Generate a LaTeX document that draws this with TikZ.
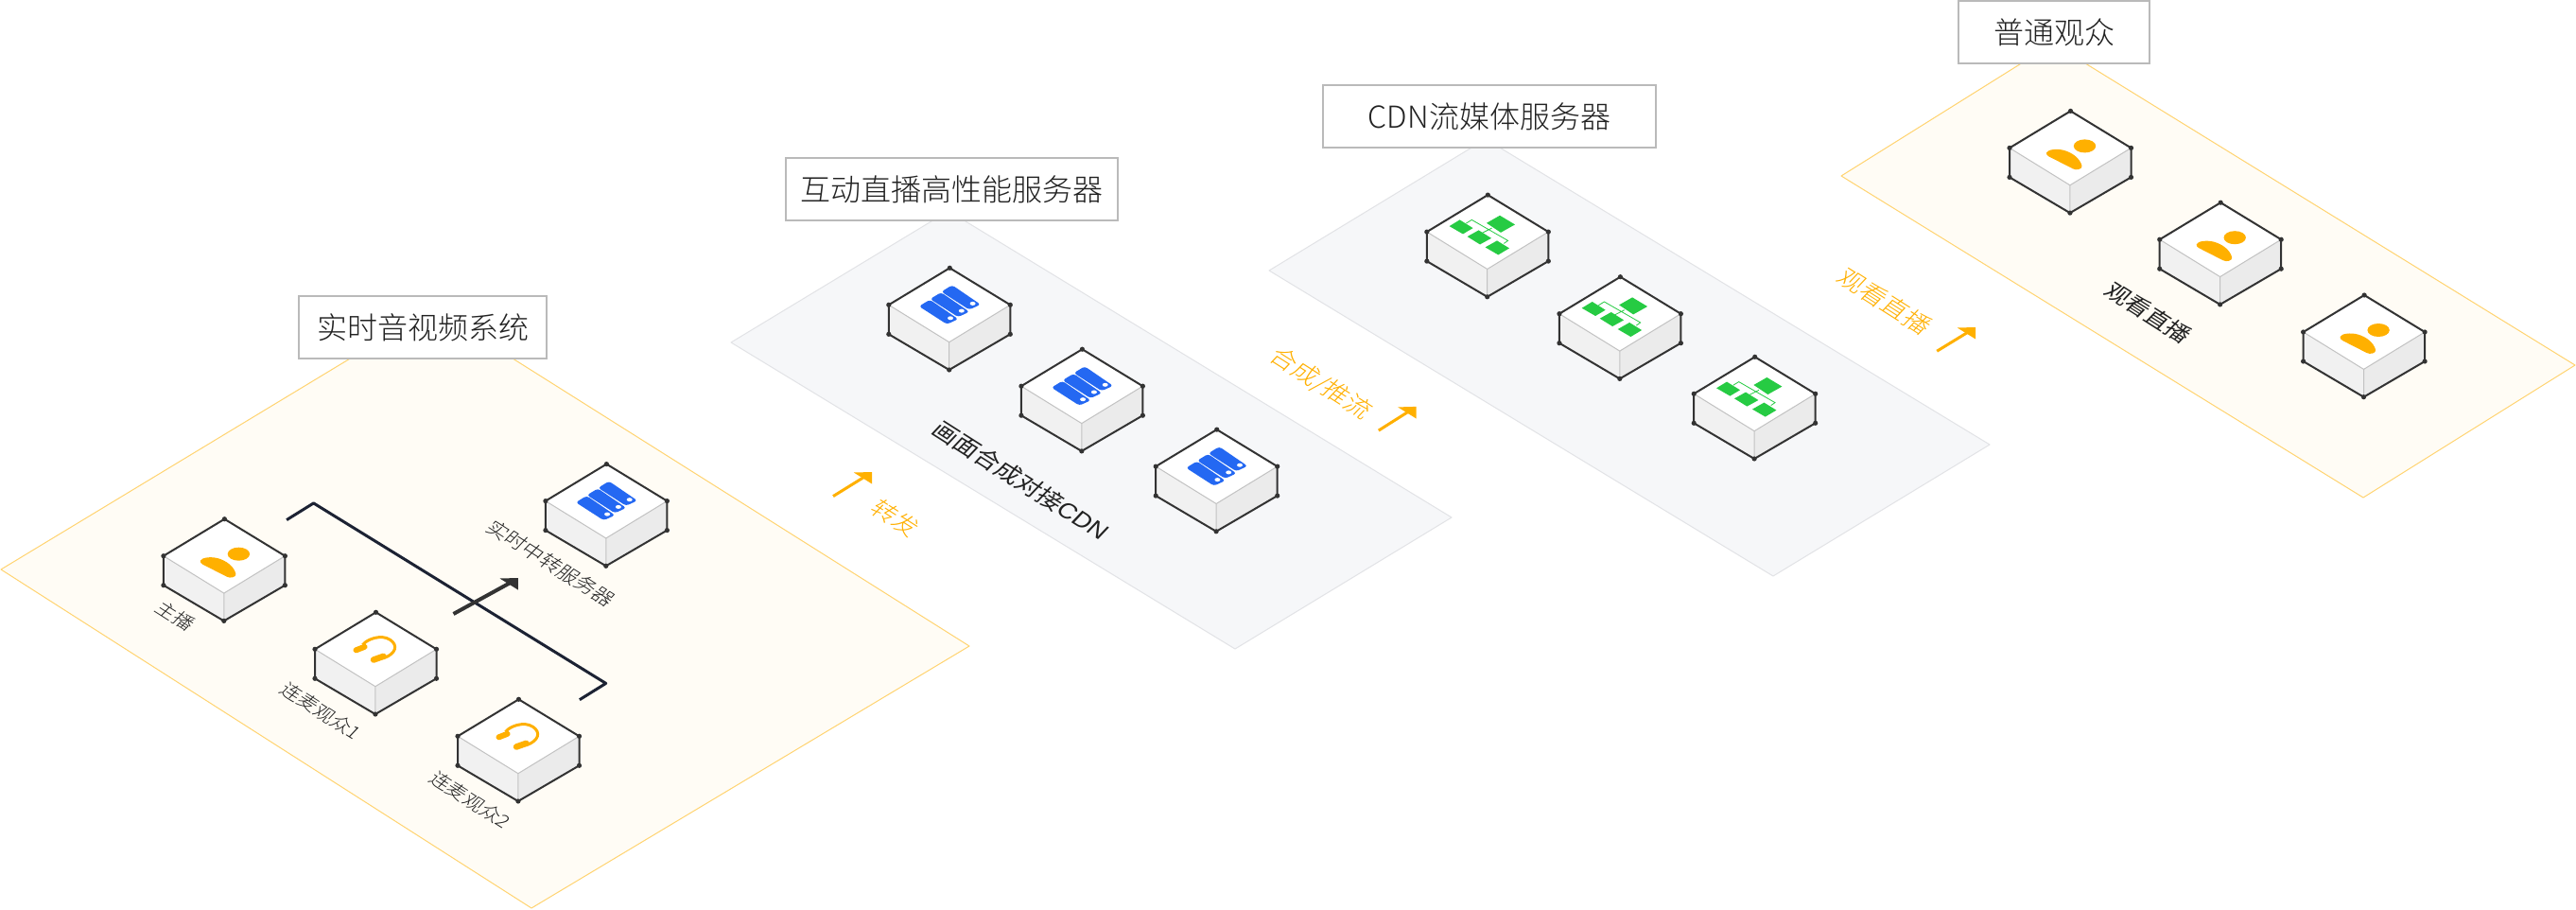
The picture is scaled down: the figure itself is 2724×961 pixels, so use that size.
\documentclass[tikz,border=0pt]{standalone}
\usepackage{fontspec}
\setmainfont{Noto Sans CJK SC}[UprightFont=* Light]
\newfontfamily\regf{Noto Sans CJK SC}
\newfontfamily\latf{Liberation Sans}
\newcommand{\ems}[1]{\fontsize{#1}{#1}\selectfont}
\definecolor{ornge}{HTML}{FFB000}
\definecolor{bluei}{HTML}{2468F2}
\definecolor{greeni}{HTML}{26CB43}
\definecolor{ink}{HTML}{333333}
\definecolor{txt}{HTML}{222222}
\definecolor{navy}{HTML}{1C2233}
\definecolor{ylfill}{HTML}{FFFCF5}
\definecolor{ylline}{HTML}{FFD471}
\definecolor{grfill}{HTML}{F6F7F9}
\definecolor{grline}{HTML}{E2E3E6}
\tikzset{
  yplat/.style={fill=ylfill,draw=ylline,line width=1pt,line join=round},
  gplat/.style={fill=grfill,draw=grline,line width=1pt,line join=round},
  titlebox/.style={draw=black!27,fill=white,line width=2pt,text=txt,inner sep=0pt,anchor=center},
  isolabel/.style={transform shape,text=txt,inner sep=0pt,anchor=center},
  orlabel/.style={isolabel,text=ornge},
  cube/.pic={
    \fill[black!5.5] (-64.5,39)--(-0.6,78.4)--(-0.6,107.7)--(-64.5,70)--cycle;
    \fill[black!8] (64,39)--(-0.6,78.4)--(-0.6,107.7)--(64,70)--cycle;
    \fill[white] (0,0)--(64,39)--(-0.6,78.4)--(-64.5,39)--cycle;
    \draw[black!24,line width=1pt] (-64.5,39)--(-0.6,78.4)--(64,39) (-0.6,78.4)--(-0.6,107.7);
    \draw[ink,line width=2pt,line join=round] (0,0)--(-64.5,39)--(-64.5,70)--(-0.6,107.7)--(64,70)--(64,39)--cycle;
    \foreach \p in {(0,0),(-64.5,39),(-64.5,70),(-0.6,107.7),(64,70),(64,39)} \fill[ink] \p circle (2.6);
  },
  person/.pic={
    \fill[ornge] (15,37) ellipse (11.7 and 7);
    \fill[ornge] (-25.5,44) .. controls (-24,40.5) and (-14,39.5) .. (-7,41.5) .. controls (2,44) and (10,50) .. (12,58) .. controls (12.5,61.5) and (6,63) .. (2.5,61) -- (-23,48) .. controls (-25,47) and (-25.8,45.5) .. cycle;
  },
  headset/.pic={
    \draw[ornge,line width=3pt] (-14,34.3) .. controls (-9,28) and (6,23) .. (15,29) .. controls (24,35) and (21,44) .. (8,48.5);
    \draw[ornge,line width=6pt,line cap=round] (-21,40)--(-12,36.5);
    \draw[ornge,line width=6.5pt,line cap=round] (-2.5,50.2)--(8,46.5);
  },
  servers/.pic={
    \foreach \k in {0,1,2}{
      \begin{scope}[shift={({\k*11.8},{-\k*7.7})}]
        \fill[bluei,rounded corners=3pt] (-32.5,40.5)--(-21,33.5)--(9,54)--(-3,59.5)--cycle;
        \fill[white] (0.7,53) ellipse (3 and 2);
      \end{scope}
    }
  },
  network/.pic={
    \fill[greeni] (-40.7,33)--(-29.7,26.3)--(-15.7,35)--(-26.3,41.3)--cycle;
    \fill[greeni] (-1.3,29.7)--(12.7,21.7)--(28.7,31.3)--(13.7,39.7)--cycle;
    \fill[greeni] (-21.7,44)--(-9.7,37.3)--(3.7,45.7)--(-8.3,52.3)--cycle;
    \fill[greeni] (-2.7,55.3)--(9.7,48.3)--(22.7,56.3)--(11,63.3)--cycle;
    \draw[greeni,line width=0.8pt] (-23,30)--(-17,26.3)--(21.3,48.3)--(17,51.3) (-9,41.7)--(4.3,35);
  }
}
\newcommand{\isoarrow}[7]{%
  \coordinate (#1s) at (#2,#3);
  \coordinate (#1e) at (#4,#5);
  \draw[#6,line width=#7] (#1s)--([shift={(-5,3.2)}]#1e);
  \fill[#6] ([shift={(-19.4,0.5)}]#1e)--(#1e)--([shift={(0,12.6)}]#1e)--cycle;
}
\begin{document}
\begin{tikzpicture}[x=1pt,y=-1pt]
\useasboundingbox (0,0) rectangle (2724,961);
\fill[white] (0,0) rectangle (2724,961);
% platforms
\draw[yplat] (1,602)--(458,326)--(1025,683)--(562,960)--cycle;
\draw[gplat] (773,362)--(1003,223)--(1535,547)--(1306,686)--cycle;
\draw[gplat] (1342,286)--(1571,147)--(2104,470)--(1875,609)--cycle;
\draw[yplat] (1947,186)--(2171,46)--(2723,386)--(2499,526)--cycle;
% title boxes
\node[titlebox,minimum width=262pt,minimum height=66pt] (t1) at (447,346) {\ems{32}实时音视频系统};
\node[titlebox,minimum width=351pt,minimum height=66pt] (t2) at (1006,200) {\ems{32}互动直播高性能服务器};
\node[titlebox,minimum width=352pt,minimum height=66pt] (t3) at (1575,123) {\ems{32}CDN流媒体服务器};
\node[titlebox,minimum width=202pt,minimum height=66pt] (t4) at (2172,34) {\ems{32}普通观众};
% cubes
\pic at (237.4,548.7) {cube}; \pic at (237.4,548.7) {person};
\pic at (397.5,647.3) {cube}; \pic at (397.5,647.3) {headset};
\pic at (548.5,739.3) {cube}; \pic at (548.5,739.3) {headset};
\pic at (641.4,490.6) {cube}; \pic at (641.4,490.6) {servers};
\pic at (1004.3,283.3) {cube}; \pic at (1004.3,283.3) {servers};
\pic at (1144.4,369.2) {cube}; \pic at (1144.4,369.2) {servers};
\pic at (1286.7,454.1) {cube}; \pic at (1286.7,454.1) {servers};
\pic at (1573.3,206.1) {cube}; \pic at (1573.3,206.1) {network};
\pic at (1713.4,292.7) {cube}; \pic at (1713.4,292.7) {network};
\pic at (1855.7,377.3) {cube}; \pic at (1855.7,377.3) {network};
\pic at (2189.5,117.4) {cube}; \pic at (2189.5,117.4) {person};
\pic at (2348.2,214.2) {cube}; \pic at (2348.2,214.2) {person};
\pic at (2500.1,312) {cube}; \pic at (2500.1,312) {person};
% bracket and arrows
\coordinate (b1) at (303.1,549.6);
\coordinate (b2) at (331.6,531.9);
\coordinate (b3) at (640.7,722.4);
\coordinate (b4) at (612.9,739.7);
\draw[navy,line width=3pt,line join=round] (b1)--(b2)--(b3)--(b4);
\isoarrow{a0}{479.5}{649}{547.9}{611}{ink}{4pt}
\isoarrow{a1}{881}{524.6}{922.2}{499}{ornge}{3pt}
\isoarrow{a2}{1457.8}{455.1}{1497.6}{429.9}{ornge}{3pt}
\isoarrow{a3}{2048.2}{371.2}{2089.2}{346}{ornge}{3pt}
% isometric labels
\node[isolabel,cm={.88,-.56,.68,.72,(185.7,650.8)}] (l1) at (0,0) {\ems{20}主播};
\node[isolabel,cm={.88,-.56,.68,.72,(339.6,751.5)}] (l2) at (0,0) {\ems{20}连麦观众1};
\node[isolabel,cm={.88,-.56,.68,.72,(497.4,845.5)}] (l3) at (0,0) {\ems{20}连麦观众2};
\node[isolabel,cm={.88,-.56,.68,.72,(583,595.5)}] (l4) at (0,0) {\ems{21}实时中转服务器};
\node[isolabel,cm={.88,-.56,.68,.72,(1080,508)}] (l5) at (0,0) {\ems{25}\regf 画面合成对接{\latf CDN}};
\node[isolabel,cm={.88,-.56,.68,.72,(2271.5,330.6)}] (l6) at (0,0) {\ems{24}\regf 观看直播};
\node[orlabel,cm={.88,-.56,.68,.72,(946.9,547.8)}] (l7) at (0,0) {\ems{25}转发};
\node[orlabel,cm={.88,-.56,.68,.72,(1397,405.7)}] (l8) at (0,0) {\ems{26}合成/推流};
\node[orlabel,cm={.88,-.56,.68,.72,(1993,318.5)}] (l9) at (0,0) {\ems{26}观看直播};
\end{tikzpicture}
\end{document}
